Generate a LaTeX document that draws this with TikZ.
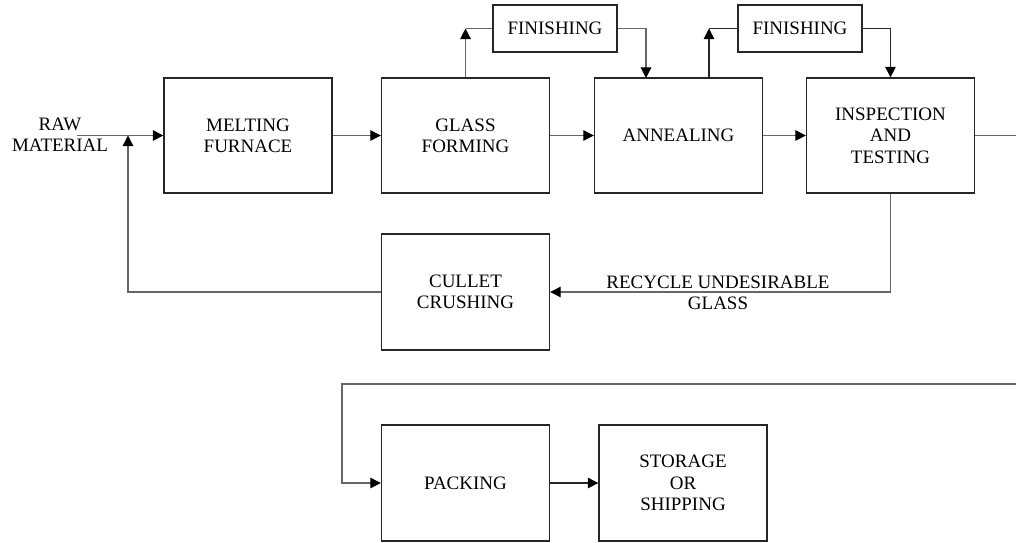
\documentclass[tikz,border=0pt]{standalone}
\usepackage{fontspec}
\setmainfont{Liberation Serif}
\usetikzlibrary{arrows.meta}
\begin{document}
\begin{tikzpicture}[x=0.025cm, y=-0.025cm,
        box/.style={rectangle, draw=black!85, line width=0.9pt, minimum width=4.2cm, minimum height=2.875cm, align=center, font=\fontsize{13.5}{15.2}\selectfont, inner sep=2pt},
        finbox/.style={box, minimum width=3.1cm, minimum height=1.175cm},
        line/.style={draw=black!60, line width=0.75pt},
        arr/.style={line, -{Triangle[length=7.5pt, width=7.5pt, color=black]}}
    ]
        \useasboundingbox (0,0) rectangle (1016,542);
        \node[box] (melt) at (248,135.5) {MELTING\\FURNACE};
        \node[box] (form) at (465.5,135.5) {GLASS\\FORMING};
        \node[box] (anneal) at (678.5,135.5) {ANNEALING};
        \node[box] (insp) at (890.5,135.5) {INSPECTION\\AND\\TESTING};
        \node[finbox] (fin1) at (555,28.5) {FINISHING};
        \node[finbox] (fin2) at (800,28.5) {FINISHING};
        \node[box, minimum height=2.9cm] (cullet) at (465.5,292) {CULLET\\CRUSHING};
        \node[box, minimum height=2.9cm] (pack) at (465.5,483) {PACKING};
        \node[box, minimum height=2.9cm] (store) at (683,483) {STORAGE\\OR\\SHIPPING};
        \node[align=center, font=\fontsize{13.5}{15.2}\selectfont] (raw) at (60,135) {RAW\\MATERIAL};
        \node[align=center, font=\fontsize{13.5}{15.2}\selectfont] (recycle) at (718,292.5) {RECYCLE UNDESIRABLE\\GLASS};

        \coordinate (rawend) at (77,135.5);
        \coordinate (join) at (128,135.5);
        \coordinate (c1) at (465.5,28.5);
        \coordinate (a2) at (646,78);
        \coordinate (c3) at (709,28.5);
        \coordinate (out1) at (1016,135.5);
        \coordinate (out2) at (1016,384);
        \coordinate (c5) at (342,384);

        \draw[arr] (rawend) -- (melt.west);
        \draw[arr] (melt.east) -- (form.west);
        \draw[arr] (form.east) -- (anneal.west);
        \draw[arr] (anneal.east) -- (insp.west);
        \draw[line] (insp.east) -- (out1);

        \draw[arr] (form.north) -- (c1);
        \draw[line] (c1) -- (fin1.west);
        \draw[arr] (fin1.east) -| (a2);
        \draw[arr, draw=black!85] (anneal.north -| c3) -- (c3);
        \draw[line, draw=black!85] (c3) -- (fin2.west);
        \draw[arr, draw=black!85] (fin2.east) -| (insp.north);

        \draw[arr] (insp.south) |- (cullet.east);
        \draw[arr] (cullet.west) -| (join);

        \draw[arr] (out2) -- (c5) |- (pack.west);
        \draw[arr, draw=black!85] (pack.east) -- (store.west);
    \end{tikzpicture}
\end{document}
